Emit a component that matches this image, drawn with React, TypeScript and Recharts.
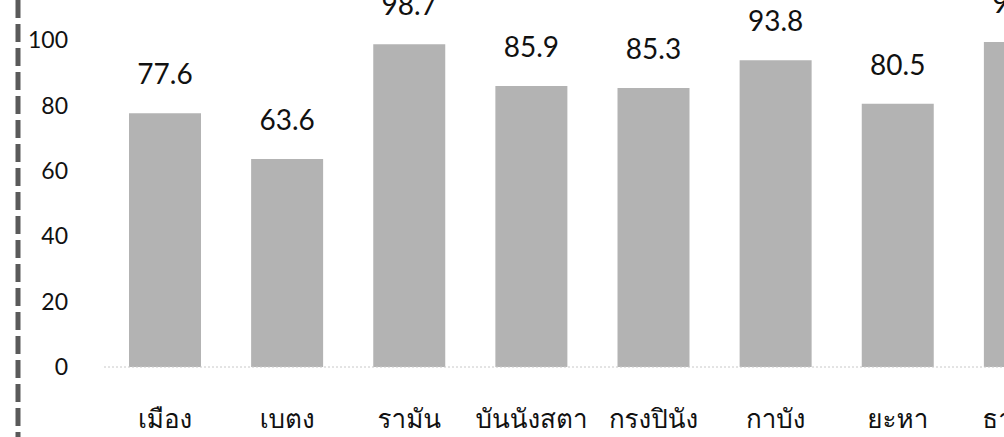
import React from 'react';
import { Bar, BarChart, XAxis, YAxis } from 'recharts';

// Yala districts and their rate (%)
const districts = ['เมือง', 'เบตง', 'รามัน', 'บันนังสตา', 'กรงปินัง', 'กาบัง', 'ยะหา', 'ธารโต'];
const rates = [77.6, 63.6, 98.7, 85.9, 85.3, 93.8, 80.5, 99.4];
const yTicks = [0, 20, 40, 60, 80, 100];

const data = districts.map((name, i) => ({ name, rate: rates[i] }));

const numFont = 'Lato, "Open Sans", sans-serif';
const thaiFont = 'Loma, Garuda, "Noto Sans Thai Looped", "Noto Serif Thai", "Noto Sans Thai", Tahoma, sans-serif';

const ValueLabel = (props: any) => {
  const { x, y, width, value } = props;
  return (
    <text
      x={x + width / 2}
      y={y - 40}
      textAnchor="middle"
      dominantBaseline="central"
      fontFamily={numFont}
      fontSize={28}
      fill="#111"
    >
      {value}
    </text>
  );
};

export default function App() {
  return (
    <div
      style={{
        position: 'absolute',
        left: 0,
        top: 0,
        width: 1004,
        height: 437,
        overflow: 'hidden',
        background: '#fff',
      }}
    >
      {/* dashed border strip on the left */}
      <svg width={30} height={437} style={{ position: 'absolute', left: 0, top: 0 }}>
        <line x1={18} y1={0} x2={18} y2={437} stroke="#5a5a5a" strokeWidth={5} strokeDasharray="18 6" />
      </svg>
      <BarChart
        width={1081}
        height={437}
        data={data}
        margin={{ top: 40, right: 0, bottom: 0, left: 0 }}
      >
        <XAxis
          dataKey="name"
          height={70}
          axisLine={{ stroke: '#c8c8c8', strokeDasharray: '2 2' }}
          tickLine={false}
          tickSize={0}
          tickMargin={43}
          interval={0}
          tick={{ fill: '#111', fontSize: 26, fontFamily: thaiFont, fontWeight: 300 }}
        />
        <YAxis
          width={104}
          domain={[0, 100]}
          ticks={yTicks}
          axisLine={false}
          tickLine={false}
          tickSize={0}
          tickMargin={36}
          tick={{ fill: '#111', fontSize: 23, fontFamily: numFont }}
        />
        <Bar dataKey="rate" fill="#b3b3b3" barSize={72} isAnimationActive={false} label={ValueLabel} />
      </BarChart>
    </div>
  );
}
